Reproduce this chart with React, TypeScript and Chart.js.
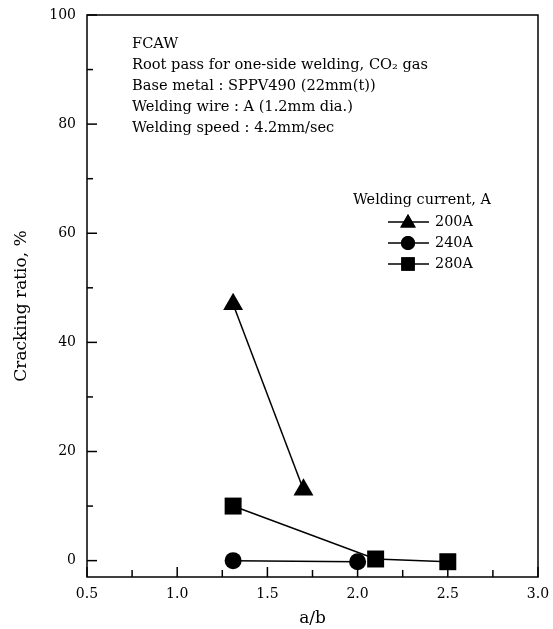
import React, { useEffect, useRef } from "react";
import { Chart, registerables } from "chart.js";
import { drawPoint } from "chart.js/helpers";
Chart.register(...registerables);

const xTickValues = [0.5, 1.0, 1.5, 2.0, 2.5, 3.0];
const yTickValues = [0, 20, 40, 60, 80, 100];
const seriesLabels = ["200A", "240A", "280A"];
const ratio200 = [1.31, 1.7];
const crack200 = [47, 13];
const ratio240 = [1.31, 2.0];
const crack240 = [0, -0.2];
const ratio280 = [1.31, 2.1, 2.5];
const crack280 = [10, 0.3, -0.2];
const noteLines = [
  "FCAW",
  "Root pass for one-side welding, CO\u2082 gas",
  "Base metal : SPPV490 (22mm(t))",
  "Welding wire : A (1.2mm dia.)",
  "Welding speed : 4.2mm/sec",
];
const legendTitle = "Welding current, A";
const xTitle = "a/b";
const yTitle = "Cracking ratio, %";

const FONT = "'DejaVu Serif', 'Liberation Serif', serif";
const styles = [
  { pointStyle: "triangle", radius: 11.5, legendRadius: 9 },
  { pointStyle: "circle", radius: 8.5, legendRadius: 7 },
  { pointStyle: "rect", radius: 12, legendRadius: 9.5 },
];

const toPoints = (xs: number[], ys: number[]) => xs.map((x, i) => ({ x, y: ys[i] }));

const decorPlugin = {
  id: "decor",
  afterDraw(chart: any) {
    const { ctx, chartArea } = chart;
    const xs = chart.scales.x;
    const ys = chart.scales.y;
    ctx.save();
    ctx.strokeStyle = "#000";
    ctx.fillStyle = "#000";
    ctx.lineWidth = 1.5;
    ctx.strokeRect(chartArea.left, chartArea.top, chartArea.right - chartArea.left, chartArea.bottom - chartArea.top);
    for (let v = 0; v <= 100; v += 10) {
      const py = ys.getPixelForValue(v);
      const len = v % 20 === 0 ? 10 : 6;
      ctx.beginPath();
      ctx.moveTo(chartArea.left, py);
      ctx.lineTo(chartArea.left + len, py);
      ctx.stroke();
    }
    for (let i = 0; i <= 10; i++) {
      const v = 0.5 + i * 0.25;
      const px = xs.getPixelForValue(v);
      const len = i % 2 === 0 ? 10 : 7;
      ctx.beginPath();
      ctx.moveTo(px, chartArea.bottom);
      ctx.lineTo(px, chartArea.bottom - len);
      ctx.stroke();
    }
    ctx.font = `17px ${FONT}`;
    ctx.textAlign = "center";
    ctx.textBaseline = "middle";
    ctx.fillText(xTitle, (chartArea.left + chartArea.right) / 2, 619);
    ctx.save();
    ctx.translate(22, 306);
    ctx.rotate(-Math.PI / 2);
    ctx.fillText(yTitle, 0, 0);
    ctx.restore();
    ctx.textAlign = "left";
    ctx.textBaseline = "alphabetic";
    ctx.font = `14.6px ${FONT}`;
    noteLines.forEach((t, i) => ctx.fillText(t, 132, 48 + i * 21));
    ctx.font = `14.4px ${FONT}`;
    ctx.fillText(legendTitle, 353, 204);
    chart.data.datasets.forEach((ds: any, i: number) => {
      const y = 222 + i * 21;
      ctx.lineWidth = 1.5;
      ctx.beginPath();
      ctx.moveTo(388, y);
      ctx.lineTo(429, y);
      ctx.stroke();
      drawPoint(ctx, { pointStyle: styles[i].pointStyle, radius: styles[i].legendRadius, rotation: 0, borderWidth: 0 } as any, 408, y + (i === 0 ? 1 : 0));
      ctx.fill();
      ctx.textBaseline = "middle";
      ctx.fillText(seriesLabels[i], 435, y);
      ctx.textBaseline = "alphabetic";
    });
    ctx.restore();
  },
};

const zeroPad = (s: any) => {
  s.paddingTop = 0;
  s.paddingBottom = 0;
  s.paddingLeft = 0;
  s.paddingRight = 0;
};

export default function App() {
  const ref = useRef<HTMLCanvasElement | null>(null);
  useEffect(() => {
    document.body.style.margin = "0";
    const canvas = ref.current!;
    const series = [toPoints(ratio200, crack200), toPoints(ratio240, crack240), toPoints(ratio280, crack280)];
    const chart = new Chart(canvas, {
      type: "scatter",
      data: {
        datasets: series.map((d, i) => ({
          label: seriesLabels[i],
          data: d,
          showLine: true,
          borderColor: "#000",
          backgroundColor: "#000",
          borderWidth: 1.5,
          pointStyle: styles[i].pointStyle as any,
          pointRadius: styles[i].radius,
          pointBorderWidth: 0,
          pointBackgroundColor: "#000",
        })),
      },
      options: {
        animation: false,
        responsive: false,
        layout: { padding: { top: 15, right: 15, left: 0, bottom: 0 } },
        plugins: { legend: { display: false }, tooltip: { enabled: false } },
        scales: {
          x: {
            type: "linear",
            min: 0.5,
            max: 3.0,
            grid: { display: false, drawTicks: false },
            border: { display: false },
            afterBuildTicks: (s: any) => { s.ticks = xTickValues.map((v) => ({ value: v })); },
            afterFit: (s: any) => { s.height = 52; zeroPad(s); },
            ticks: {
              color: "#000",
              font: { family: FONT, size: 14 },
              padding: 9,
              callback: (v: any) => Number(v).toFixed(1),
            },
          },
          y: {
            type: "linear",
            min: -3,
            max: 100,
            grid: { display: false, drawTicks: false },
            border: { display: false },
            afterBuildTicks: (s: any) => { s.ticks = yTickValues.map((v) => ({ value: v })); },
            afterFit: (s: any) => { s.width = 87; zeroPad(s); },
            ticks: {
              color: "#000",
              font: { family: FONT, size: 14 },
              padding: 11,
            },
          },
        },
      },
      plugins: [decorPlugin],
    });
    return () => chart.destroy();
  }, []);
  return <canvas ref={ref} width={553} height={629} style={{ display: "block" }} />;
}
